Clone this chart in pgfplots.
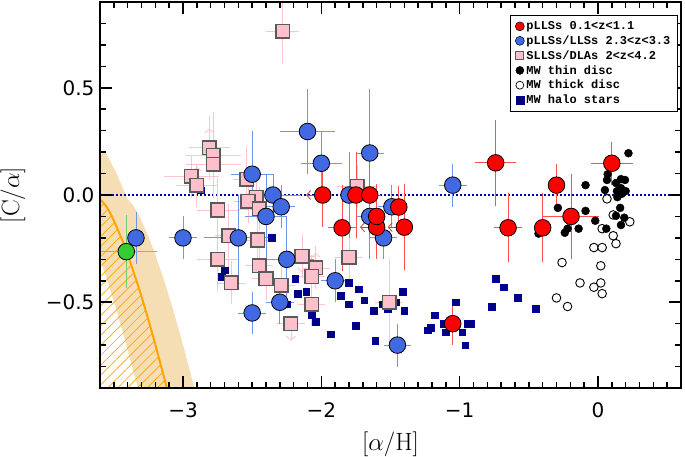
\documentclass[border=0pt]{standalone}
\usepackage{fontspec}
\usepackage{pgfplots}
\pgfplotsset{compat=1.18}
\usetikzlibrary{patterns.meta,arrows.meta}
\newfontfamily\dejavu{DejaVu Sans}
\newfontfamily\mono{Liberation Mono}
\definecolor{wheatc}{RGB}{245,222,179}
\definecolor{myorange}{RGB}{255,165,0}
\definecolor{myred}{RGB}{255,0,0}
\definecolor{redbar}{RGB}{255,80,80}
\definecolor{myblue}{RGB}{65,105,225}
\definecolor{bluebar}{RGB}{110,150,235}
\definecolor{mypink}{RGB}{255,192,203}
\definecolor{pinkbar}{RGB}{255,195,205}
\definecolor{pinkedge}{RGB}{90,90,90}
\definecolor{mygreen}{RGB}{50,205,50}
\definecolor{greenbar}{RGB}{120,200,120}
\definecolor{navyc}{RGB}{0,0,128}
\definecolor{dotblue}{RGB}{0,0,150}
\begin{document}
\begin{tikzpicture}
\begin{axis}[
  at={(0pt,0pt)}, anchor=south west,
  scale only axis, width=581pt, height=386pt,
  xmin=-3.6, xmax=0.6, ymin=-0.9, ymax=0.9,
  unbounded coords=jump,
  xtick={-3,-2,-1,0}, xticklabels={−3,−2,−1,0},
  ytick={-0.5,0,0.5}, yticklabels={−0.5,0.0,0.5},
  minor x tick num=9, minor y tick num=4,
  major tick length=12pt, minor tick length=6pt,
  tick align=inside,
  tick style={black, line width=1.3pt},
  ticklabel style={font=\dejavu\fontsize{20}{24}\selectfont},
  xticklabel style={yshift=-11pt},
  yticklabel style={xshift=-2pt},
  xlabel={$[\alpha/\mathrm{H}]$}, ylabel={$[\mathrm{C}/\alpha]$},
  every axis x label/.style={at={(axis description cs:0.5,-0.1450)}, anchor=center, font=\fontsize{25}{30}\selectfont},
  every axis y label/.style={at={(axis description cs:-0.1497,0.5)}, anchor=center, rotate=90, font=\fontsize{25}{30}\selectfont},
  legend style={at={(rel axis cs:0.9948,0.9663)}, anchor=north east, draw=black, line width=1.2pt, fill=white, font=\mono\bfseries\fontsize{12}{14}\selectfont, row sep=0.6pt, inner xsep=5pt, inner ysep=4pt},
  legend cell align=left,
  legend image code/.code={\draw[mark repeat=2,mark phase=2,#1] plot coordinates {(0pt,0pt)(5pt,0pt)(10pt,0pt)};},
]
% legend
\addlegendimage{only marks, mark=*, mark size=4.5pt, mark options={fill=myred, draw=black, line width=0.5pt}}
\addlegendentry{pLLSs 0.1<z<1.1}
\addlegendimage{only marks, mark=*, mark size=4.5pt, mark options={fill=myblue, draw=black, line width=0.5pt}}
\addlegendentry{pLLSs/LLSs 2.3<z<3.3}
\addlegendimage{only marks, mark=square*, mark size=4pt, mark options={fill=mypink, draw=pinkedge, line width=0.8pt}}
\addlegendentry{SLLSs/DLAs 2<z<4.2}
\addlegendimage{only marks, mark=*, mark size=4pt, mark options={fill=black, draw=black, line width=0.5pt}}
\addlegendentry{MW thin disc}
\addlegendimage{only marks, mark=*, mark size=4pt, mark options={fill=white, draw=black, line width=0.7pt}}
\addlegendentry{MW thick disc}
\addlegendimage{only marks, mark=square*, mark size=4pt, mark options={fill=navyc, draw=navyc, line width=0.5pt}}
\addlegendentry{MW halo stars}

% band
\addplot[draw=none, fill=wheatc, forget plot] coordinates {(-3.6,0.19) (-3.56,0.20) (-3.48,0.10) (-3.40,-0.02) (-3.358,-0.05) (-3.314,-0.10) (-3.246,-0.2) (-3.208,-0.264) (-3.136,-0.4) (-3.077,-0.523) (-2.999,-0.7) (-2.917,-0.9) (-3.327,-0.9) (-3.409,-0.7) (-3.487,-0.523) (-3.546,-0.4) (-3.6,-0.30)} -- cycle;
% hatch
\addplot[draw=none, pattern={Lines[angle=45,distance=7pt,line width=0.7pt]}, pattern color=myorange, forget plot] coordinates {(-3.6,-0.02) (-3.558,-0.05) (-3.514,-0.10) (-3.446,-0.2) (-3.408,-0.264) (-3.336,-0.4) (-3.277,-0.523) (-3.199,-0.7) (-3.117,-0.9) (-3.6,-0.9)} -- cycle;
% orange model line
\addplot[myorange, line width=2pt, smooth, forget plot] coordinates {(-3.6,-0.02) (-3.558,-0.05) (-3.514,-0.10) (-3.446,-0.2) (-3.408,-0.264) (-3.336,-0.4) (-3.277,-0.523) (-3.199,-0.7) (-3.117,-0.9)};
% dotted solar line
\addplot[dotblue, line width=2pt, dash pattern=on 1.6pt off 2.4pt, forget plot] coordinates {(-3.6,0) (0.6,0)};

% MW halo stars
\addplot[only marks, mark=square*, mark size=3.3pt, mark options={fill=navyc, draw=navyc!80!blue, line width=0.5pt}, forget plot] coordinates {
(-0.74,-0.39) (-0.68,-0.43) (-0.58,-0.48) (-0.77,-0.52) (-0.45,-0.53) (-0.92,-0.60)
(-2.19,-0.39) (-2.17,-0.46) (-2.11,-0.45) (-2.07,-0.56) (-2.04,-0.59) (-1.93,-0.65)
(-1.86,-0.47) (-1.80,-0.41) (-1.80,-0.51) (-1.73,-0.44) (-1.69,-0.49) (-1.75,-0.61)
(-1.62,-0.54) (-1.56,-0.51) (-1.52,-0.53) (-1.46,-0.50) (-1.41,-0.45) (-1.40,-0.54)
(-1.61,-0.68) (-1.18,-0.56) (-1.23,-0.63) (-1.21,-0.62) (-1.12,-0.60) (-1.10,-0.64)
(-1.03,-0.50) (-0.98,-0.64) (-0.94,-0.60) (-0.96,-0.70)
(-2.87,0.023) (-2.36,-0.20) (-2.70,-0.35) (-2.72,-0.38) (-2.25,-0.51)};
% MW thick disc
\addplot[only marks, mark=*, mark size=4.3pt, mark options={fill=white, draw=black, line width=0.9pt}, forget plot] coordinates {
(0.065,-0.018) (0.11,-0.093) (0.23,-0.125) (0.03,-0.157) (0.11,-0.19) (0.13,-0.227)
(-0.03,-0.245) (0.03,-0.245) (-0.26,-0.315) (0.02,-0.33) (-0.13,-0.41) (0.02,-0.41)
(-0.03,-0.43) (0.03,-0.46) (-0.30,-0.48) (-0.22,-0.52)};
% MW thin disc
\addplot[only marks, mark=*, mark size=4pt, mark options={fill=black, draw=black}, forget plot] coordinates {
(0.22,0.195) (0.07,0.097) (0.065,0.07) (0.13,0.056) (0.166,0.074) (0.195,0.07)
(0.05,0.023) (0.137,0.018) (0.166,0.032) (0.20,0.018) (0.17,0.005) (-0.09,0.046)
(-0.29,-0.06) (-0.09,-0.074) (0.16,-0.06) (0.13,-0.097) (0.19,-0.106) (-0.02,-0.12)
(0.166,-0.14) (0.06,-0.157) (-0.14,-0.157) (-0.22,-0.157) (-0.24,-0.176) (-0.43,-0.18)
(0.14,-0.01)};

% SLLS/DLA limit arrows
\addplot[pinkbar, line width=0.8pt, mark=none, forget plot, quiver={u=\thisrow{u}, v=\thisrow{v}, every arrow/.append style={-{Straight Barb[length=4pt,width=9pt]}}}] table {
x y u v
-2.81 0.22 0 0.09
-2.90 0.046 0 0.085
-2.04 -0.34 0 0.07
-2.22 -0.60 0 -0.08
-2.14 -0.285 0 -0.075
};
% SLLSs/DLAs
\addplot[only marks, mark=square*, mark size=6.8pt, mark options={fill=mypink, draw=pinkedge, line width=1.5pt}, forget plot,
  error bars/.cd, x dir=both, y dir=both, x explicit, y explicit, error mark=none, error bar style={pinkbar, line width=0.8pt}] coordinates {
(-2.28,0.764) +- (0.12,0.15)
(-2.81,0.22) +- (0.15,0.15)
(-2.78,0.185) +- (0.2,0.2)
(-2.78,0.143) +- (0.2,0.15)
(-2.94,0.088) +- (0.2,0.1)
(-2.90,0.046) +- (0.15,0.1)
(-2.54,0.074) +- (0.1,0.15)
(-2.47,-0.01) +- (0.1,0.1)
(-2.53,-0.03) +- (0.1,0.1)
(-2.45,-0.065) +- (0.15,0.1)
(-2.75,-0.07) +- (0.15,0.15)
(-2.67,-0.19) +- (0.1,0.15)
(-2.46,-0.21) +- (0.1,0.1)
(-2.75,-0.30) +- (0.15,0.15)
(-2.45,-0.33) +- (0.1,0.1)
(-2.65,-0.41) +- (0.1,0.1)
(-2.40,-0.39) +- (0.1,0.1)
(-2.29,-0.42) +- (0.1,0.1)
(-2.22,-0.60) +- (0.1,0.0)
(-2.14,-0.285) +- (0.1,0.1)
(-1.80,-0.29) +- (0.1,0.1)
(-2.04,-0.34) +- (0.1,0.1)
(-2.07,-0.38) +- (0.1,0.1)
(-2.07,-0.51) +- (0.1,0.1)
(-1.51,-0.50) +- (0.1,0.2)
(-1.74,0.04) +- (0.15,0.1)
};
% pLLSs/LLSs 2.3<z<3.3
\addplot[only marks, mark=*, mark size=8.3pt, mark options={fill=myblue, draw=black, line width=0.8pt}, forget plot,
  error bars/.cd, x dir=both, y dir=both, x explicit, y explicit, error mark=none, error bar style={bluebar, line width=0.8pt}] coordinates {
(-3.34,-0.20) +- (0.03,0.12)
(-3.00,-0.20) +- (0.1,0.1)
(-2.60,-0.20) +- (0.25,0.2)
(-2.50,0.097) +- (0.15,0.2)
(-2.35,0.00) +- (0.2,0.1)
(-2.29,-0.055) +- (0.1,0.1)
(-2.40,-0.10) +- (0.15,0.2)
(-2.25,-0.30) +- (0.2,0.2)
(-2.30,-0.50) +- (0.1,0.1)
(-2.50,-0.55) +- (0.1,0.1)
(-2.10,0.296) +- (0.2,0.2)
(-2.00,0.148) +- (0.15,0.15)
(-1.65,0.196) +- (0.1,0.3)
(-1.80,0.00) +- (0.05,0.2)
(-1.05,0.046) +- (0.1,0.1)
(-1.49,-0.055) +- (0.1,0.1)
(-1.65,-0.10) +- (0.1,0.2)
(-1.55,-0.20) +- (0.1,0.1)
(-1.90,-0.40) +- (0.1,0.1)
(-1.45,-0.70) +- (0.1,0.1)
};
% pLLS limit arrows
\addplot[redbar!80!black, line width=0.8pt, mark=none, forget plot, quiver={u=\thisrow{u}, v=\thisrow{v}, every arrow/.append style={-{Straight Barb[length=4pt,width=9pt]}}}] table {
x y u v
-1.99 0 -0.12 0
-1.60 -0.15 -0.12 0
-1.40 -0.15 -0.12 0
};
% pLLSs 0.1<z<1.1
\addplot[only marks, mark=*, mark size=8.3pt, mark options={fill=myred, draw=black, line width=0.8pt}, forget plot,
  error bars/.cd, x dir=both, y dir=both, x explicit, y explicit, error mark=none, error bar style={redbar, line width=0.8pt}] coordinates {
(-1.99,0.00) +- (0,0.15)
(-1.75,0.00) +- (0.1,0.2)
(-1.65,0.00) +- (0.08,0.15)
(-1.85,-0.153) +- (0.1,0.2)
(-1.60,-0.15) +- (0,0.15)
(-1.40,-0.15) +- (0,0.2)
(-1.60,-0.10) +- (0.05,0.15)
(-1.44,-0.056) +- (0.05,0.1)
(-0.74,0.15) +- (0.15,0.2)
(-0.65,-0.153) +- (0.1,0.16)
(-0.30,0.046) +- (0.0,0.1)
(-0.40,-0.153) +- (0,0.16)
(-0.195,-0.10) +- (0.2,0.2)
(0.10,0.148) +- (0.15,0.1)
(-1.05,-0.60) +- (0,0.1)
};
% green
\addplot[only marks, mark=*, mark size=8.3pt, mark options={fill=mygreen, draw=black, line width=0.8pt}, forget plot,
  error bars/.cd, x dir=both, y dir=both, x explicit, y explicit, error mark=none, error bar style={greenbar, line width=0.8pt}] coordinates {
(-3.41,-0.264) +- (0.22,0.17)
};
% ---- tick marks drawn as short line segments separated by jumps ----
% bottom and top, minor
\addplot[black, line width=1.6pt, mark=none, forget plot] coordinates {
(-3.5,-0.9)(-3.5,-0.872)(-3.5,nan) (-3.4,-0.9)(-3.4,-0.872)(-3.4,nan) (-3.3,-0.9)(-3.3,-0.872)(-3.3,nan)
(-3.2,-0.9)(-3.2,-0.872)(-3.2,nan) (-3.1,-0.9)(-3.1,-0.872)(-3.1,nan) (-2.9,-0.9)(-2.9,-0.872)(-2.9,nan)
(-2.8,-0.9)(-2.8,-0.872)(-2.8,nan) (-2.7,-0.9)(-2.7,-0.872)(-2.7,nan) (-2.6,-0.9)(-2.6,-0.872)(-2.6,nan)
(-2.5,-0.9)(-2.5,-0.872)(-2.5,nan) (-2.4,-0.9)(-2.4,-0.872)(-2.4,nan) (-2.3,-0.9)(-2.3,-0.872)(-2.3,nan)
(-2.2,-0.9)(-2.2,-0.872)(-2.2,nan) (-2.1,-0.9)(-2.1,-0.872)(-2.1,nan) (-1.9,-0.9)(-1.9,-0.872)(-1.9,nan)
(-1.8,-0.9)(-1.8,-0.872)(-1.8,nan) (-1.7,-0.9)(-1.7,-0.872)(-1.7,nan) (-1.6,-0.9)(-1.6,-0.872)(-1.6,nan)
(-1.5,-0.9)(-1.5,-0.872)(-1.5,nan) (-1.4,-0.9)(-1.4,-0.872)(-1.4,nan) (-1.3,-0.9)(-1.3,-0.872)(-1.3,nan)
(-1.2,-0.9)(-1.2,-0.872)(-1.2,nan) (-1.1,-0.9)(-1.1,-0.872)(-1.1,nan) (-0.9,-0.9)(-0.9,-0.872)(-0.9,nan)
(-0.8,-0.9)(-0.8,-0.872)(-0.8,nan) (-0.7,-0.9)(-0.7,-0.872)(-0.7,nan) (-0.6,-0.9)(-0.6,-0.872)(-0.6,nan)
(-0.5,-0.9)(-0.5,-0.872)(-0.5,nan) (-0.4,-0.9)(-0.4,-0.872)(-0.4,nan) (-0.3,-0.9)(-0.3,-0.872)(-0.3,nan)
(-0.2,-0.9)(-0.2,-0.872)(-0.2,nan) (-0.1,-0.9)(-0.1,-0.872)(-0.1,nan) (0.1,-0.9)(0.1,-0.872)(0.1,nan)
(0.2,-0.9)(0.2,-0.872)(0.2,nan) (0.3,-0.9)(0.3,-0.872)(0.3,nan) (0.4,-0.9)(0.4,-0.872)(0.4,nan)
(0.5,-0.9)(0.5,-0.872)(0.5,nan)
(-3.5,0.9)(-3.5,0.872)(-3.5,nan) (-3.4,0.9)(-3.4,0.872)(-3.4,nan) (-3.3,0.9)(-3.3,0.872)(-3.3,nan)
(-3.2,0.9)(-3.2,0.872)(-3.2,nan) (-3.1,0.9)(-3.1,0.872)(-3.1,nan) (-2.9,0.9)(-2.9,0.872)(-2.9,nan)
(-2.8,0.9)(-2.8,0.872)(-2.8,nan) (-2.7,0.9)(-2.7,0.872)(-2.7,nan) (-2.6,0.9)(-2.6,0.872)(-2.6,nan)
(-2.5,0.9)(-2.5,0.872)(-2.5,nan) (-2.4,0.9)(-2.4,0.872)(-2.4,nan) (-2.3,0.9)(-2.3,0.872)(-2.3,nan)
(-2.2,0.9)(-2.2,0.872)(-2.2,nan) (-2.1,0.9)(-2.1,0.872)(-2.1,nan) (-1.9,0.9)(-1.9,0.872)(-1.9,nan)
(-1.8,0.9)(-1.8,0.872)(-1.8,nan) (-1.7,0.9)(-1.7,0.872)(-1.7,nan) (-1.6,0.9)(-1.6,0.872)(-1.6,nan)
(-1.5,0.9)(-1.5,0.872)(-1.5,nan) (-1.4,0.9)(-1.4,0.872)(-1.4,nan) (-1.3,0.9)(-1.3,0.872)(-1.3,nan)
(-1.2,0.9)(-1.2,0.872)(-1.2,nan) (-1.1,0.9)(-1.1,0.872)(-1.1,nan) (-0.9,0.9)(-0.9,0.872)(-0.9,nan)
(-0.8,0.9)(-0.8,0.872)(-0.8,nan) (-0.7,0.9)(-0.7,0.872)(-0.7,nan) (-0.6,0.9)(-0.6,0.872)(-0.6,nan)
(-0.5,0.9)(-0.5,0.872)(-0.5,nan) (-0.4,0.9)(-0.4,0.872)(-0.4,nan) (-0.3,0.9)(-0.3,0.872)(-0.3,nan)
(-0.2,0.9)(-0.2,0.872)(-0.2,nan) (-0.1,0.9)(-0.1,0.872)(-0.1,nan) (0.1,0.9)(0.1,0.872)(0.1,nan)
(0.2,0.9)(0.2,0.872)(0.2,nan) (0.3,0.9)(0.3,0.872)(0.3,nan) (0.4,0.9)(0.4,0.872)(0.4,nan)
(0.5,0.9)(0.5,0.872)};
% bottom and top, major
\addplot[black, line width=1.6pt, mark=none, forget plot] coordinates {
(-3,-0.9)(-3,-0.844)(-3,nan) (-2,-0.9)(-2,-0.844)(-2,nan) (-1,-0.9)(-1,-0.844)(-1,nan) (0,-0.9)(0,-0.844)(0,nan)
(-3,0.9)(-3,0.844)(-3,nan) (-2,0.9)(-2,0.844)(-2,nan) (-1,0.9)(-1,0.844)(-1,nan) (0,0.9)(0,0.844)};
% left and right, minor
\addplot[black, line width=1.6pt, mark=none, forget plot] coordinates {
(-3.6,-0.8)(-3.5566,-0.8)(nan,-0.8) (-3.6,-0.7)(-3.5566,-0.7)(nan,-0.7) (-3.6,-0.6)(-3.5566,-0.6)(nan,-0.6)
(-3.6,-0.4)(-3.5566,-0.4)(nan,-0.4) (-3.6,-0.3)(-3.5566,-0.3)(nan,-0.3) (-3.6,-0.2)(-3.5566,-0.2)(nan,-0.2)
(-3.6,-0.1)(-3.5566,-0.1)(nan,-0.1) (-3.6,0.1)(-3.5566,0.1)(nan,0.1) (-3.6,0.2)(-3.5566,0.2)(nan,0.2)
(-3.6,0.3)(-3.5566,0.3)(nan,0.3) (-3.6,0.4)(-3.5566,0.4)(nan,0.4) (-3.6,0.6)(-3.5566,0.6)(nan,0.6)
(-3.6,0.7)(-3.5566,0.7)(nan,0.7) (-3.6,0.8)(-3.5566,0.8)(nan,0.8)
(0.6,-0.8)(0.5566,-0.8)(nan,-0.8) (0.6,-0.7)(0.5566,-0.7)(nan,-0.7) (0.6,-0.6)(0.5566,-0.6)(nan,-0.6)
(0.6,-0.4)(0.5566,-0.4)(nan,-0.4) (0.6,-0.3)(0.5566,-0.3)(nan,-0.3) (0.6,-0.2)(0.5566,-0.2)(nan,-0.2)
(0.6,-0.1)(0.5566,-0.1)(nan,-0.1) (0.6,0.1)(0.5566,0.1)(nan,0.1) (0.6,0.2)(0.5566,0.2)(nan,0.2)
(0.6,0.3)(0.5566,0.3)(nan,0.3) (0.6,0.4)(0.5566,0.4)(nan,0.4) (0.6,0.6)(0.5566,0.6)(nan,0.6)
(0.6,0.7)(0.5566,0.7)(nan,0.7) (0.6,0.8)(0.5566,0.8)};
% left and right, major
\addplot[black, line width=1.6pt, mark=none, forget plot] coordinates {
(-3.6,-0.5)(-3.5132,-0.5)(nan,-0.5) (-3.6,0)(-3.5132,0)(nan,0) (-3.6,0.5)(-3.5132,0.5)(nan,0.5)
(0.6,-0.5)(0.5132,-0.5)(nan,-0.5) (0.6,0)(0.5132,0)(nan,0) (0.6,0.5)(0.5132,0.5)};
\end{axis}
\draw[black, line width=1.8pt] (0pt,0pt) rectangle (581pt,386pt);
\pgfresetboundingbox
\path[use as bounding box] (-100pt,-68pt) rectangle (585pt,388pt);
\end{tikzpicture}
\end{document}
